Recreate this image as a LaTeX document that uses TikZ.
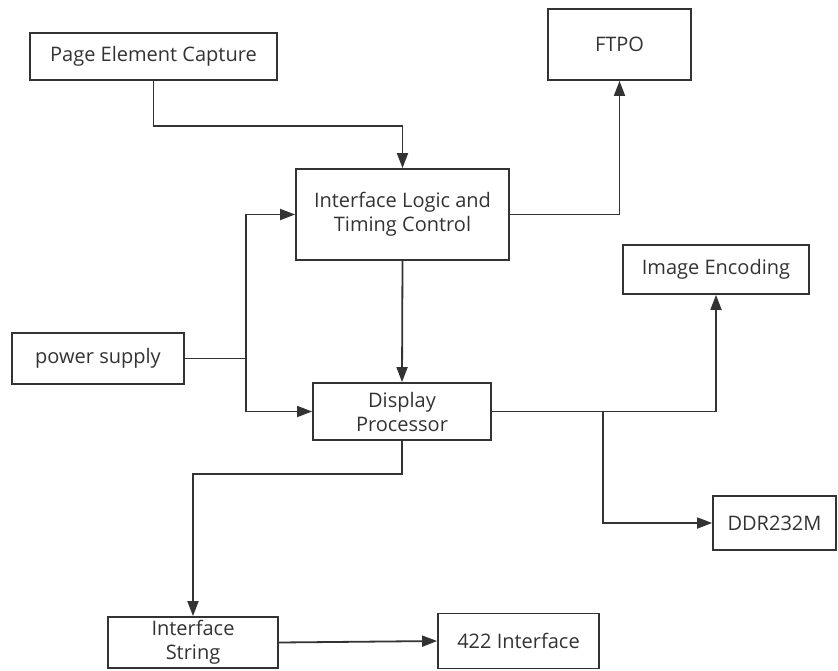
\documentclass[tikz,border=0pt]{standalone}
\usepackage{fontspec}
\setmainfont{Open Sans}
\usetikzlibrary{arrows.meta}
\tikzset{
  blk/.style={draw=black!80, line width=1.8pt, align=center, inner sep=0pt,
    text=black!80, font=\fontsize{20}{24}\selectfont},
  link/.style={draw=black!80, line width=1.8pt, -{Triangle[length=15pt,width=11pt]}},
}
\begin{document}
\begin{tikzpicture}[x=1pt,y=-1pt]
  \useasboundingbox (0,0) rectangle (838,670);
  \node[blk, minimum width=247pt, minimum height=47pt] (pec) at (153.5,56.5) {Page Element Capture};
  \node[blk, minimum width=143pt, minimum height=71pt] (ftpo) at (619.5,44.5) {FTPO};
  \node[blk, minimum width=213pt, minimum height=91pt] (iltc) at (402.5,214.5) {Interface Logic and\\Timing Control};
  \node[blk, minimum width=186pt, minimum height=49pt] (ie) at (716,269.5) {Image Encoding};
  \node[blk, minimum width=172pt, minimum height=51pt] (ps) at (98,358.5) {power supply};
  \node[blk, minimum width=178pt, minimum height=57pt] (dp) at (402,411.5) {Display\\Processor};
  \node[blk, minimum width=123pt, minimum height=54pt] (ddr) at (774.5,523) {DDR232M};
  \node[blk, minimum width=170pt, minimum height=51pt] (is) at (193,642.5) {Interface\\String};
  \node[blk, minimum width=161pt, minimum height=55pt] (fti) at (518.5,641) {422 Interface};
  \coordinate (j) at (246,358.5);
  \coordinate (k) at (603,411.5);
  % connectors
  \draw[link] (pec.south) -- ++(0,45) -| (iltc.north);
  \draw[link] (iltc.east) -| (ftpo.south);
  \draw[link] (iltc.south) -- (dp.north);
  \draw[draw=black!80, line width=1.8pt] (ps.east) -- (j);
  \draw[link] (j) |- (iltc.west);
  \draw[link] (j) |- (dp.west);
  \draw[link] (dp.east) -| (ie.south);
  \draw[link] (dp.east) -- (k) |- (ddr.west);
  \draw[link] (dp.south) -- ++(0,33) -| (is.north);
  \draw[link] (is.east) -- (fti.west);
\end{tikzpicture}
\end{document}
